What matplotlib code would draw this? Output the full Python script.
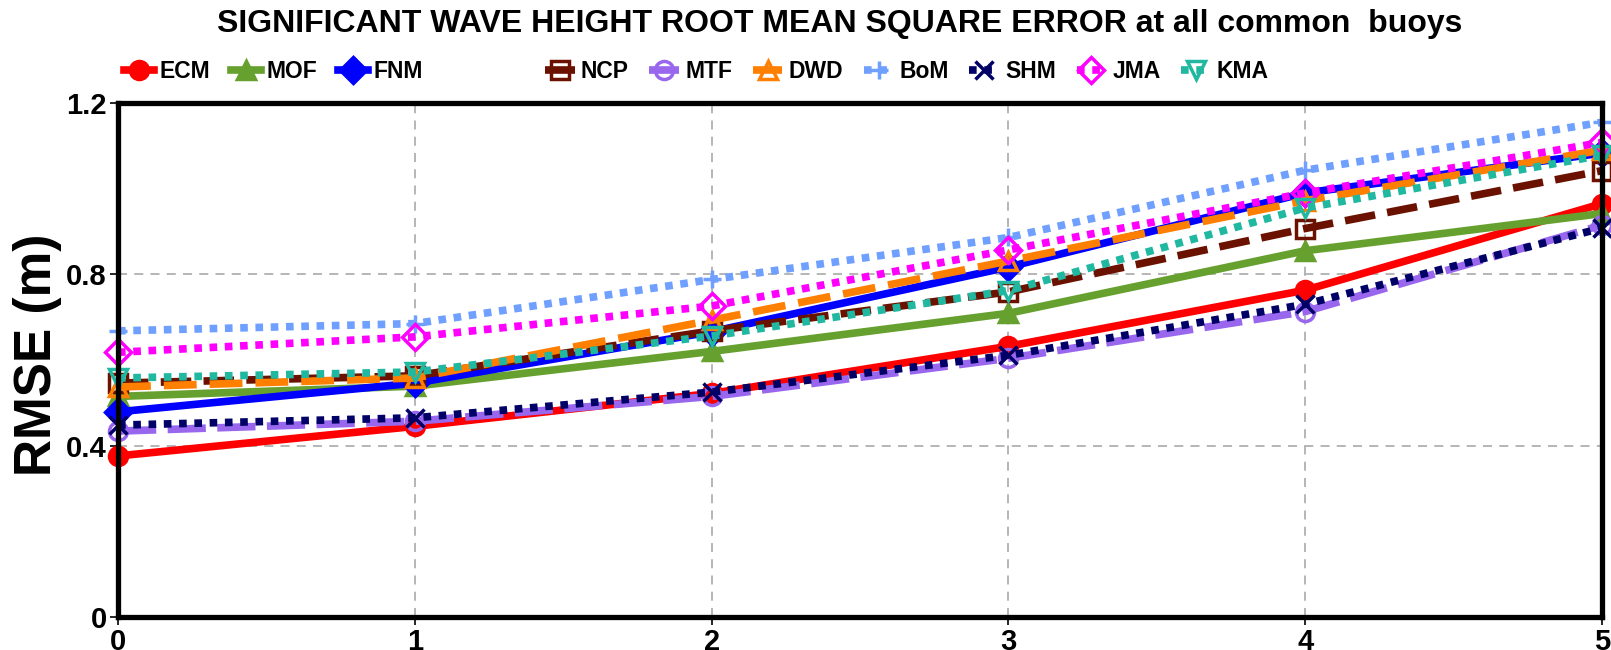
import matplotlib
matplotlib.use("Agg")
import matplotlib.pyplot as plt
from matplotlib.lines import Line2D

plt.rcParams['font.family'] = ['Liberation Sans', 'DejaVu Sans']

days = [0, 1, 2, 3, 4, 5]
ecm = [0.376, 0.445, 0.522, 0.632, 0.763, 0.965]
mof = [0.515, 0.539, 0.620, 0.709, 0.855, 0.942]
fnm = [0.479, 0.546, 0.666, 0.817, 0.990, 1.083]
ncp = [0.546, 0.563, 0.668, 0.759, 0.907, 1.042]
mtf = [0.434, 0.457, 0.515, 0.604, 0.713, 0.915]
dwd = [0.537, 0.558, 0.693, 0.831, 0.972, 1.090]
bom = [0.668, 0.685, 0.788, 0.886, 1.043, 1.155]
shm = [0.448, 0.465, 0.525, 0.611, 0.730, 0.908]
jma = [0.618, 0.654, 0.726, 0.857, 0.990, 1.108]
kma = [0.558, 0.572, 0.656, 0.762, 0.955, 1.078]

names = ["ECM", "MOF", "FNM", "NCP", "MTF", "DWD", "BoM", "SHM", "JMA", "KMA"]
series = [ecm, mof, fnm, ncp, mtf, dwd, bom, shm, jma, kma]
colors = ["#ff0000", "#66a02e", "#0000ff", "#6b1100", "#9966ee", "#ff7f00",
          "#6fa0ff", "#000066", "#ff00ff", "#20b8a0"]
markers = ["o", "^", "D", "s", "o", "^", "+", "x", "D", "v"]
filled = [True, True, True, False, False, False, True, True, False, False]
dashes = [None, None, None, (4.0, 1.6), (5.0, 1.5), (4.3, 1.7), (1, 1), (1, 1), (1, 1), (1, 1)]

fig = plt.figure(figsize=(16.11, 6.5), dpi=100)
ax = fig.add_axes([118/1611, 33/650, (1602-118)/1611, (617-103)/650])

handles = []
for name, ys, c, m, f, d in zip(names, series, colors, markers, filled, dashes):
    kw = dict(color=c, lw=5.5, marker=m, markersize=13,
              markeredgewidth=2.5, label=name, clip_on=False)
    if not f:
        kw['markerfacecolor'] = 'none'
        kw['markeredgecolor'] = c
    if d is not None:
        kw['dashes'] = d
        kw['dash_capstyle'] = 'butt'
    line, = ax.plot(days, ys, **kw)
    handles.append(line)

blank = Line2D([], [], color='none')
blank_label = ' ' * 7
leg_handles = handles[:3] + [blank] + handles[3:]
leg_labels = [h.get_label() for h in handles[:3]] + [blank_label] + [h.get_label() for h in handles[3:]]
fig.legend(leg_handles, leg_labels, ncol=11, loc='center left',
           bbox_to_anchor=(124/1611, 1 - 72/650),
           frameon=False, prop={'weight': 'bold', 'size': 16.5},
           handlelength=1.3, handletextpad=0.26, columnspacing=0.9,
           borderpad=0, borderaxespad=0, markerscale=1.0)

ax.set_xlim(0, 5)
ax.set_ylim(0, 1.2)
ax.set_xticks(days)
ax.set_yticks([0, 0.4, 0.8, 1.2])
ax.set_yticklabels(["0", "0.4", "0.8", "1.2"])
for lab in ax.get_xticklabels() + ax.get_yticklabels():
    lab.set_fontweight('bold')
    lab.set_fontsize(21)
ax.tick_params(length=6, width=1.2, pad=2)
ax.grid(True, color='#b0b0b0', linestyle=(0, (5, 4)), lw=1.3)
for s in ax.spines.values():
    s.set_linewidth(3.8)

ax.set_ylabel("RMSE (m)", fontsize=37, fontweight='bold')
ax.yaxis.set_label_coords((62 - 118) / 1484, 0.51)
fig.text(0.521, 1 - 24/650, "SIGNIFICANT WAVE HEIGHT ROOT MEAN SQUARE ERROR at all common  buoys",
         fontsize=23, fontweight='bold', ha='center', va='center')

fig.savefig("out.png", dpi=100)
